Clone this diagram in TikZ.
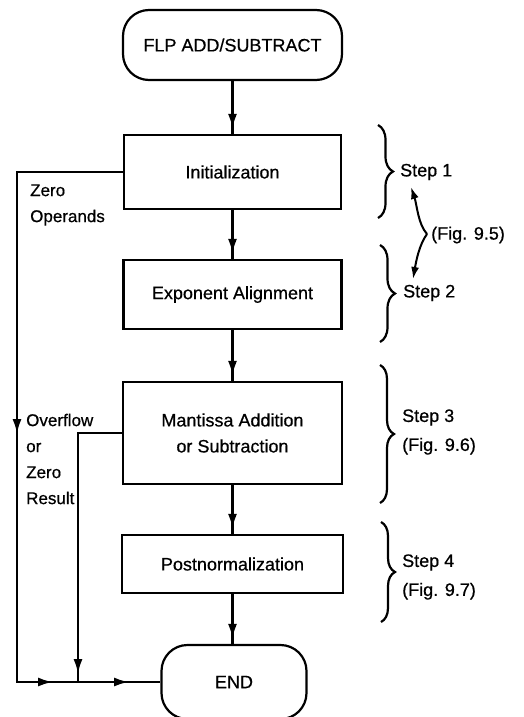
\documentclass[tikz,border=0pt]{standalone}
\usepackage{fontspec}
\setmainfont{Liberation Sans}[FakeBold=0.6]
\usetikzlibrary{arrows.meta,decorations.markings,decorations.pathreplacing}

% arrow head used on every connector
\newcommand{\flowtip}{\arrow{Latex[length=15pt,width=9pt]}}

\begin{document}
\begin{tikzpicture}[x=1pt,y=-1pt,
  every node/.style={font=\fontsize{18}{26}\selectfont, inner sep=0pt},
  procbox/.style={draw, line width=2.2pt, align=center},
  terminal/.style={procbox, rounded corners=26pt},
  link/.style={line width=2.6pt},
  endtip/.style={link, postaction={decorate},
    decoration={markings, mark=at position -5pt with {\flowtip}}},
  bracket/.style={line width=2.2pt, decorate,
    decoration={brace, amplitude=#1}},
  steptext/.style={anchor=west, align=left, font=\fontsize{18}{29}\selectfont},
  sidetext/.style={anchor=west, align=left, font=\fontsize{17}{26}\selectfont},
  figlink/.style={line width=2pt, -{Latex[length=12pt,width=8pt]}},
]
\useasboundingbox (0,0) rectangle (523,717);

% main flow
\node[terminal, minimum width=219pt, minimum height=70pt] (start) at (232.5,45) {FLP ADD/SUBTRACT};
\node[procbox, minimum width=217pt, minimum height=74pt] (init) at (232.5,172) {Initialization};
\node[procbox, minimum width=218pt, minimum height=69pt] (expo) at (232.5,294.5) {Exponent Alignment};
\node[procbox, minimum width=219pt, minimum height=102pt] (mant) at (232.5,433) {Mantissa Addition\\or Subtraction};
\node[procbox, minimum width=221pt, minimum height=58pt] (post) at (232.5,564) {Postnormalization};
\node[terminal, minimum width=145pt, minimum height=74pt] (fin) at (234,682) {END};

\draw[endtip] (start) -- (init);
\draw[endtip] (init) -- (expo);
\draw[endtip] (expo) -- (mant);
\draw[endtip] (mant) -- (post);
\draw[endtip] (post.south) -- (post.south |- fin.north);

% early exits to END
\coordinate (zl) at (17,172);
\coordinate (ol) at (78,433);
\draw[link, postaction={decorate}, decoration={markings,
    mark=at position 368pt with {\flowtip},
    mark=at position 652pt with {\flowtip},
    mark=at position 728pt with {\flowtip}}]
  (init.west) -- (zl) -- (zl |- fin.west) -- (fin.west);
\draw[link, postaction={decorate}, decoration={markings,
    mark=at position 285pt with {\flowtip}}]
  (mant.west) -- (ol) -- (ol |- fin.west);

\node[sidetext] (zlab) at (30,205) {Zero\\Operands};
\node[sidetext] (olab) at (26,459) {Overflow\\or\\Zero\\Result};

% step brackets
\draw[bracket=15pt] (378,125) -- (378,218);
\draw[bracket=15pt] (380,245) -- (380,342);
\draw[bracket=14pt] (380,365) -- (380,503);
\draw[bracket=14pt] (381,522) -- (381,622);

\node[steptext] (s1) at (400,172) {Step 1};
\node[steptext] (s2) at (403,293) {Step 2};
\node[steptext] (s3) at (402,432) {Step 3\\(Fig. 9.6)};
\node[steptext] (s4) at (402,577) {Step 4\\(Fig. 9.7)};
\node[steptext] (f95) at (431,235) {(Fig. 9.5)};

% reference arrows shared by steps 1 and 2
\coordinate (fork) at (427,234);
\coordinate (up) at (411,187);
\coordinate (down) at (413,279);
\draw[figlink] (fork) .. controls (418,224) and (417,205) .. (up);
\draw[figlink] (fork) .. controls (419,245) and (416,262) .. (down);
\end{tikzpicture}
\end{document}
